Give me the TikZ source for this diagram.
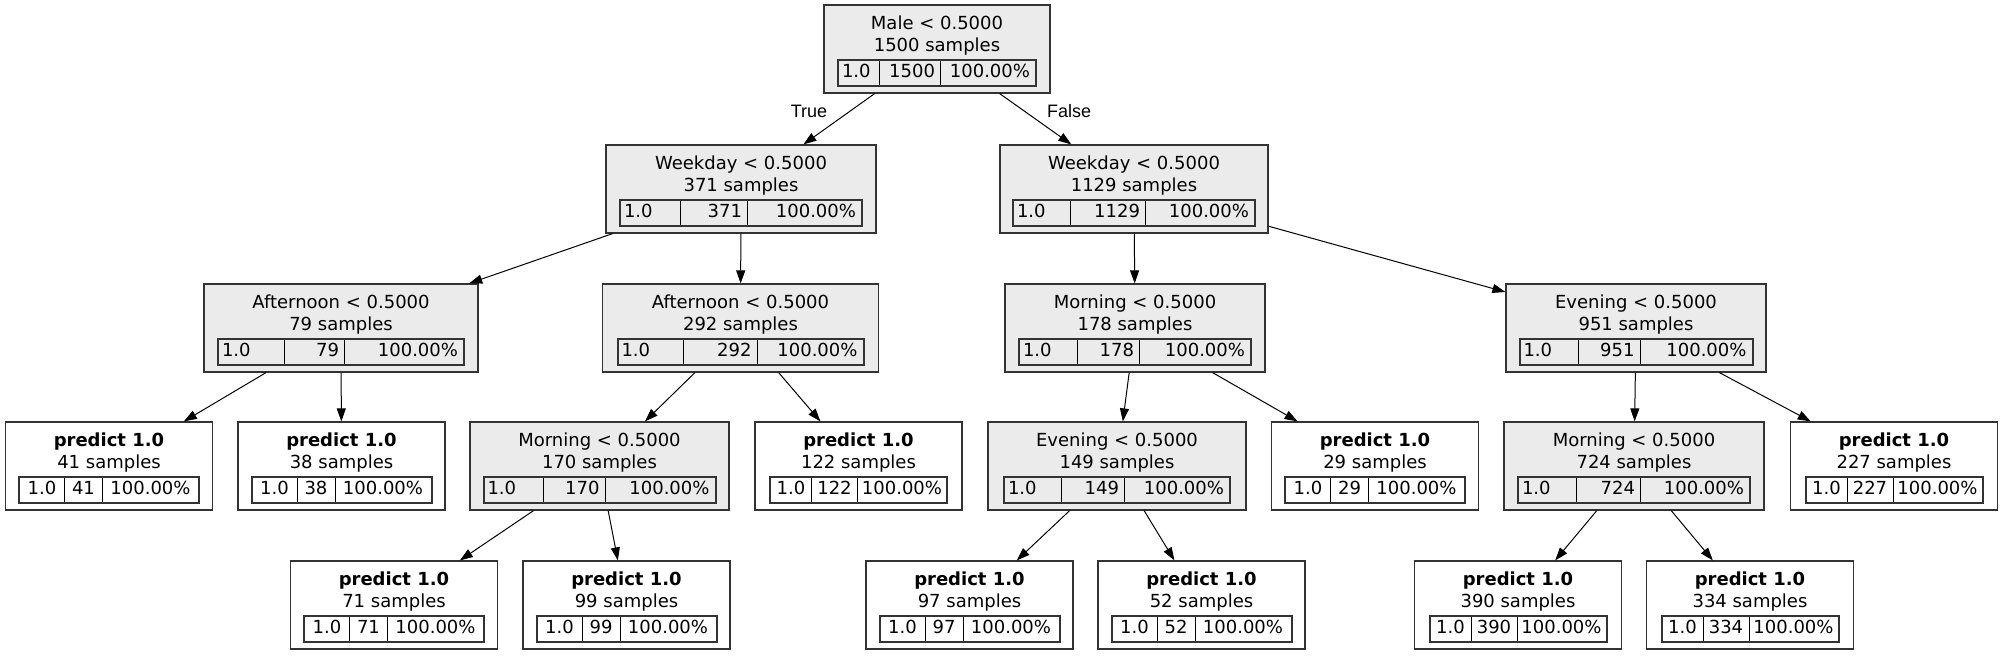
\documentclass[tikz,border=0pt]{standalone}
\usepackage{xcolor}
\usepackage{fontspec}
\setmainfont{DejaVu Sans}
\newfontfamily\labelfont{Liberation Sans}
\usepackage{tikz}
\usetikzlibrary{arrows.meta}
\definecolor{splitgray}{RGB}{235,235,235}
\newcommand{\TopStrut}{\rule{0pt}{18.5pt}}
\newcommand{\TabStrut}{\rule[-7pt]{0pt}{24pt}}
% three cells of a split node: widths, then the count
\newcommand{\SplitTable}[4]{{\setlength{\fboxsep}{0pt}\setlength{\fboxrule}{2pt}%
  \color{black!80}\fbox{\color{black}\TabStrut%
  \makebox[#1][l]{\hspace{3pt}1.0}\vrule width 1pt%
  \makebox[#2][r]{#4\hspace{5pt}}\vrule width 1pt%
  \makebox[#3][r]{100.00\%\hspace{5pt}}}}}
% three cells of a leaf
\newcommand{\LeafTable}[4]{{\setlength{\fboxsep}{0pt}\setlength{\fboxrule}{2pt}%
  \color{black!80}\fbox{\color{black}\TabStrut%
  \makebox[#1][c]{1.0}\vrule width 1pt%
  \makebox[#2][c]{#4}\vrule width 1pt%
  \makebox[#3][c]{100.00\%}}}}
\newcommand{\TwoDigit}[1]{\LeafTable{44pt}{37pt}{95pt}{#1}}
\newcommand{\ThreeDigit}[1]{\LeafTable{40pt}{45pt}{88pt}{#1}}
\tikzset{
  BaseNode/.style = {align=center, inner sep=0pt, text centered, rectangle, draw=black!80, line width=1.2pt,
                     minimum height=88pt, font=\fontsize{18}{22}\selectfont},
  SplitNode/.style = {BaseNode, fill=splitgray},
  LeafNode/.style = {BaseNode, fill=white, minimum width=207pt},
  EdgeLabel/.style = {font=\labelfont\fontsize{18}{22}\selectfont, inner sep=0pt},
  Edge/.style = {->, draw=black, line width=1pt},
}

\begin{document}
\begin{tikzpicture}[>={Triangle[length=13pt,width=9pt]}, x=1pt, y=-1pt]
    \useasboundingbox (0,0) rectangle (2003,656);
    % splits
    \node [SplitNode, minimum width=226pt] (s1500) at (937,49) {\TopStrut Male < 0.5000\\1500 samples\\[2.5pt]\SplitTable{40pt}{60pt}{94pt}{1500}};
    \node [SplitNode, minimum width=270pt] (s371) at (741,189) {\TopStrut Weekday < 0.5000\\371 samples\\[2.5pt]\SplitTable{59pt}{66pt}{113pt}{371}};
    \node [SplitNode, minimum width=268pt] (s1129) at (1134,189) {\TopStrut Weekday < 0.5000\\1129 samples\\[2.5pt]\SplitTable{56pt}{74pt}{108pt}{1129}};
    \node [SplitNode, minimum width=274pt] (s79) at (341,328) {\TopStrut Afternoon < 0.5000\\79 samples\\[2.5pt]\SplitTable{65pt}{59pt}{118pt}{79}};
    \node [SplitNode, minimum width=276pt] (s292) at (740.5,328) {\TopStrut Afternoon < 0.5000\\292 samples\\[2.5pt]\SplitTable{64pt}{73pt}{105pt}{292}};
    \node [SplitNode, minimum width=260pt] (s178) at (1135,328) {\TopStrut Morning < 0.5000\\178 samples\\[2.5pt]\SplitTable{57pt}{61pt}{110pt}{178}};
    \node [SplitNode, minimum width=260pt] (s951) at (1636,328) {\TopStrut Evening < 0.5000\\951 samples\\[2.5pt]\SplitTable{57pt}{61pt}{111pt}{951}};
    \node [SplitNode, minimum width=259pt] (s170) at (599.5,466) {\TopStrut Morning < 0.5000\\170 samples\\[2.5pt]\SplitTable{58pt}{61pt}{109pt}{170}};
    \node [SplitNode, minimum width=258pt] (s149) at (1117,466) {\TopStrut Evening < 0.5000\\149 samples\\[2.5pt]\SplitTable{56pt}{62pt}{104pt}{149}};
    \node [SplitNode, minimum width=260pt] (s724) at (1634,466) {\TopStrut Morning < 0.5000\\724 samples\\[2.5pt]\SplitTable{57pt}{63pt}{108pt}{724}};
    % leaves
    \node [LeafNode] (s41) at (109,466) {\TopStrut\textbf{predict 1.0}\\41 samples\\[2.5pt]\TwoDigit{41}};
    \node [LeafNode] (s38) at (341.5,466) {\TopStrut\textbf{predict 1.0}\\38 samples\\[2.5pt]\TwoDigit{38}};
    \node [LeafNode] (s122) at (858.5,466) {\TopStrut\textbf{predict 1.0}\\122 samples\\[2.5pt]\ThreeDigit{122}};
    \node [LeafNode] (s29) at (1375,466) {\TopStrut\textbf{predict 1.0}\\29 samples\\[2.5pt]\TwoDigit{29}};
    \node [LeafNode] (s227) at (1894,466) {\TopStrut\textbf{predict 1.0}\\227 samples\\[2.5pt]\ThreeDigit{227}};
    \node [LeafNode] (s71) at (394,605) {\TopStrut\textbf{predict 1.0}\\71 samples\\[2.5pt]\TwoDigit{71}};
    \node [LeafNode] (s99) at (626.5,605) {\TopStrut\textbf{predict 1.0}\\99 samples\\[2.5pt]\TwoDigit{99}};
    \node [LeafNode] (s97) at (969.5,605) {\TopStrut\textbf{predict 1.0}\\97 samples\\[2.5pt]\TwoDigit{97}};
    \node [LeafNode] (s52) at (1201.5,605) {\TopStrut\textbf{predict 1.0}\\52 samples\\[2.5pt]\TwoDigit{52}};
    \node [LeafNode] (s390) at (1518,605) {\TopStrut\textbf{predict 1.0}\\390 samples\\[2.5pt]\ThreeDigit{390}};
    \node [LeafNode] (s334) at (1750,605) {\TopStrut\textbf{predict 1.0}\\334 samples\\[2.5pt]\ThreeDigit{334}};
    % edges
    \draw [Edge] (s1500) -- node [EdgeLabel, pos=0.35, left=22pt] (ltrue) {True} (s371);
    \draw [Edge] (s1500) -- node [EdgeLabel, pos=0.35, right=22pt] (lfalse) {False} (s1129);
    \foreach \a/\b in {s371/s79, s371/s292, s1129/s178, s1129/s951, s79/s41, s79/s38, s292/s170, s292/s122,
                       s178/s149, s178/s29, s951/s724, s951/s227, s170/s71, s170/s99, s149/s97, s149/s52,
                       s724/s390, s724/s334}
        \draw [Edge] (\a) -- (\b);
\end{tikzpicture}
\end{document}
